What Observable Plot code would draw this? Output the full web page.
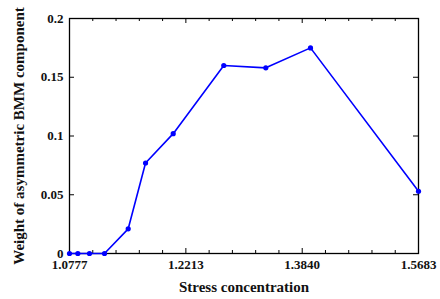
<!DOCTYPE html>
<html><head><meta charset="utf-8">
<script src="https://cdn.jsdelivr.net/npm/d3@7"></script>
<script src="https://cdn.jsdelivr.net/npm/@observablehq/plot@0.6"></script>
<style>body{margin:0;background:#fff}</style>
</head><body><div id="chart"></div>
<script>
const stress = [1.0777, 1.0874, 1.1011, 1.1190, 1.1479, 1.1695, 1.2048, 1.2721, 1.3309, 1.3964, 1.5683];
const weight = [0, 0, 0, 0, 0.021, 0.077, 0.102, 0.160, 0.158, 0.175, 0.053];
const xTicks = [1.0777, 1.2213, 1.3840, 1.5683];
const xTickLabels = ["1.0777", "1.2213", "1.3840", "1.5683"];
const yTicks = [0, 0.05, 0.1, 0.15, 0.2];
const yTickLabels = ["0", "0.05", "0.1", "0.15", "0.2"];

const data = stress.map((s, i) => ({s, w: weight[i]}));
const xTickData = xTicks.map((t, i) => ({t, label: xTickLabels[i]}));
const yTickData = yTicks.map((t, i) => ({t, label: yTickLabels[i]}));
// minor ticks: 5 equal log-steps between consecutive major ticks
const xMinor = [];
for (let i = 0; i < xTicks.length - 1; i++) {
  const a = Math.log(xTicks[i]), b = Math.log(xTicks[i + 1]);
  for (let k = 1; k < 5; k++) xMinor.push(Math.exp(a + (b - a) * k / 5));
}

const W = 440, H = 299, mL = 69, mR = 22, mT = 18, mB = 46;
const ph = H - mT - mB, pw = W - mL - mR;
const major = 5, minor = 3;

const chart = Plot.plot({
  width: W, height: H,
  marginLeft: mL, marginRight: mR, marginTop: mT, marginBottom: mB,
  style: {fontFamily: "'Liberation Serif', 'Times New Roman', serif", fontWeight: "bold", fontSize: "13px", color: "#111", background: "#fff"},
  x: {type: "log", domain: [xTicks[0], xTicks[xTicks.length - 1]]},
  y: {domain: [0, 0.2]},
  marks: [
    Plot.frame({stroke: "#000", strokeWidth: 1.3}),
    Plot.tickX(xTicks, {x: d => d, insetTop: ph - major, stroke: "#000"}),
    Plot.tickX(xTicks, {x: d => d, insetBottom: ph - major, stroke: "#000"}),
    Plot.tickX(xMinor, {x: d => d, insetTop: ph - minor, stroke: "#000"}),
    Plot.tickX(xMinor, {x: d => d, insetBottom: ph - minor, stroke: "#000"}),
    Plot.tickY(yTicks, {y: d => d, insetRight: pw - major, stroke: "#000"}),
    Plot.tickY(yTicks, {y: d => d, insetLeft: pw - major, stroke: "#000"}),
    Plot.text(xTickData, {x: "t", text: "label", frameAnchor: "bottom", dy: 15.5, fontSize: 13, fill: "#111"}),
    Plot.text(yTickData, {y: "t", text: "label", frameAnchor: "left", textAnchor: "end", dx: -6, fontSize: 13, fill: "#111"}),
    Plot.axisX({ticks: [], tickSize: 0,
      label: "Stress concentration", labelAnchor: "center", labelOffset: 38, labelArrow: false, fontSize: 15}),
    Plot.axisY({ticks: [], tickSize: 0,
      label: "Weight of asymmetric BMM component", labelAnchor: "center", labelOffset: 56, labelArrow: false, fontSize: 15}),
    Plot.line(data, {x: "s", y: "w", stroke: "#0000ff", strokeWidth: 1.6}),
    Plot.dot(data, {x: "s", y: "w", fill: "#0000ff", r: 2.6})
  ]
});
document.getElementById("chart").append(chart);
</script>
</body></html>
